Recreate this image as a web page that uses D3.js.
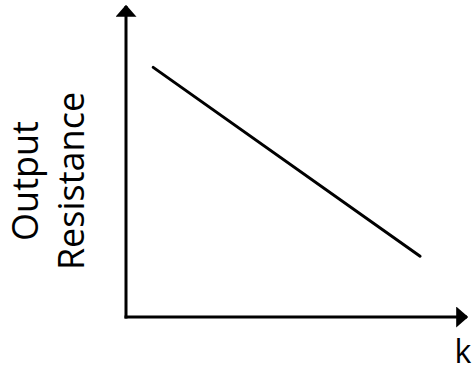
<!DOCTYPE html>
<html>
<head>
<style>
  body { margin: 0; background: #fff; }
  svg { display: block; }
  text { font-family: "Open Sans", sans-serif; fill: #000; }
</style>
</head>
<body>
<svg width="473" height="372"></svg>
<script src="https://d3js.org/d3.v7.min.js"></script>
<script>
  var svg = d3.select("svg");

  // schematic: output resistance falls as k rises
  var kValues = [0.08, 0.865];
  var resistance = [0.80, 0.195];
  var yLabel = ["Output", "Resistance"];
  var xLabel = "k";

  var data = kValues.map(function(k, i) { return { k: k, r: resistance[i] }; });

  var x = d3.scaleLinear().domain([0, 1]).range([126, 466]);
  var y = d3.scaleLinear().domain([0, 1]).range([317, 5]);

  var defs = svg.append("defs");
  defs.append("marker")
      .attr("id", "arrow")
      .attr("viewBox", "0 0 10 10")
      .attr("refX", 9)
      .attr("refY", 5)
      .attr("markerUnits", "userSpaceOnUse")
      .attr("markerWidth", 12)
      .attr("markerHeight", 21)
      .attr("orient", "auto")
      .attr("preserveAspectRatio", "none")
    .append("path")
      .attr("d", "M0,0L10,5L0,10Z")
      .attr("fill", "#000");

  // y axis
  svg.append("line")
      .attr("x1", x(0)).attr("y1", y(0) + 1.5)
      .attr("x2", x(0)).attr("y2", y(1) + 1)
      .attr("stroke", "#000")
      .attr("stroke-width", 3)
      .attr("marker-end", "url(#arrow)");

  // x axis
  svg.append("line")
      .attr("x1", x(0) - 1.5).attr("y1", y(0))
      .attr("x2", x(1) + 1).attr("y2", y(0))
      .attr("stroke", "#000")
      .attr("stroke-width", 3)
      .attr("marker-end", "url(#arrow)");

  var line = d3.line()
      .x(function(d) { return x(d.k); })
      .y(function(d) { return y(d.r); });

  svg.append("path")
      .datum(data)
      .attr("fill", "none")
      .attr("stroke", "#000")
      .attr("stroke-width", 3)
      .attr("stroke-linecap", "round")
      .attr("d", line);

  var yl = svg.append("text")
      .attr("transform", "translate(38,181) rotate(-90)")
      .attr("text-anchor", "middle")
      .style("font-size", "36px");
  yl.append("tspan").attr("x", 0).attr("y", 0).text(yLabel[0]);
  yl.append("tspan").attr("x", 0).attr("y", 46).text(yLabel[1]);

  svg.append("text")
      .attr("x", 463)
      .attr("y", 363)
      .attr("text-anchor", "middle")
      .style("font-size", "32px")
      .text(xLabel);
</script>
</body>
</html>
